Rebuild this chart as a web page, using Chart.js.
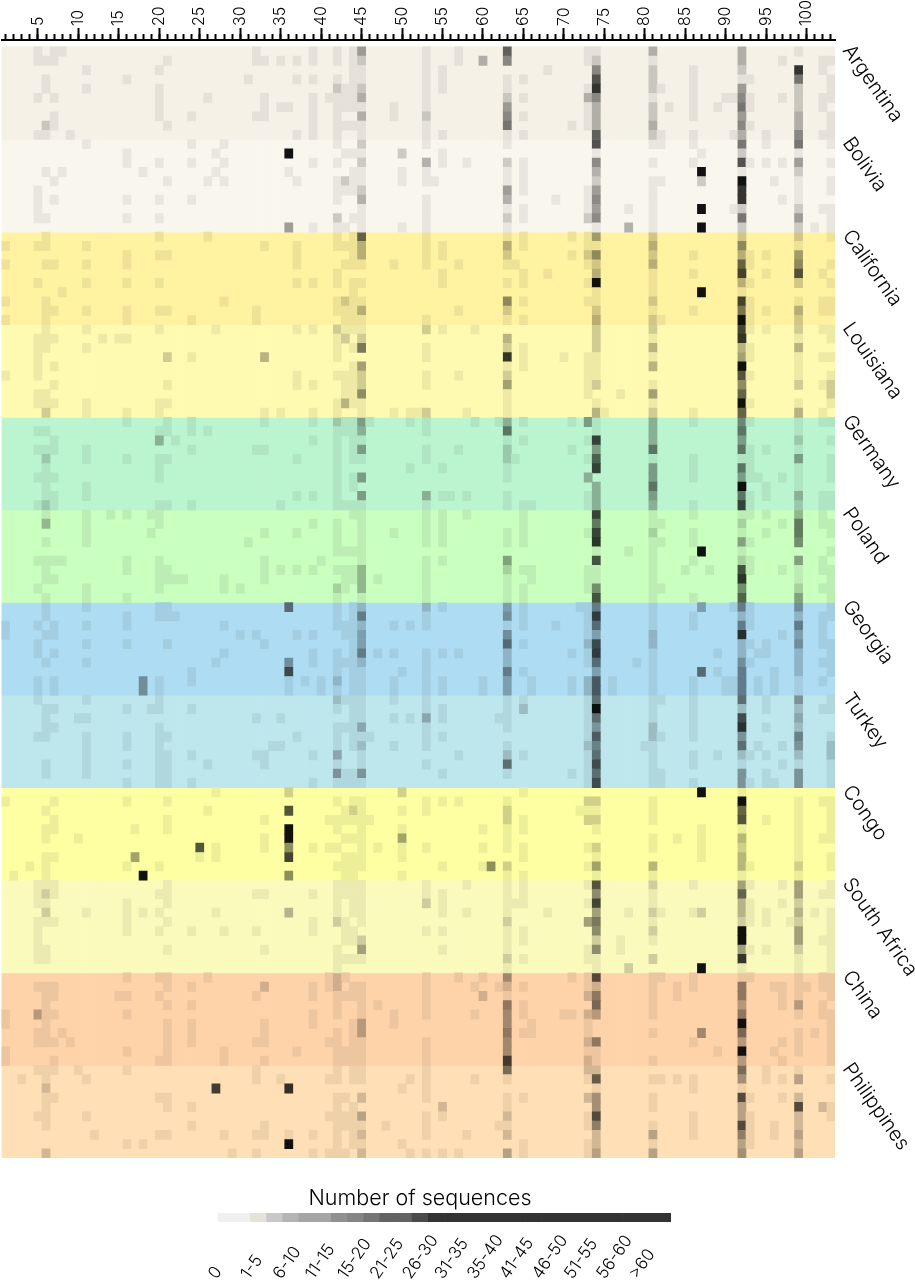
<!DOCTYPE html>
<html>
<head>
<meta charset="utf-8">
<script src="https://cdn.jsdelivr.net/npm/chart.js@4"></script>
<style>
  html, body { margin: 0; padding: 0; background: #fff; overflow: hidden; height: 1280px; }
  canvas { position: absolute; left: 0; }
  #heatmap { top: 0; }
  #scale { top: 1205px; }
  #scaleTicks { top: 1224px; }
  #scaleTitle { position: absolute; left: 0; top: 1184px; width: 840px; text-align: center; font: 300 21.5px Inter; color: #000; }
</style>
</head>
<body>
<canvas id="heatmap" width="915" height="1165"></canvas>
<canvas id="scale" width="840" height="25"></canvas>
<canvas id="scaleTicks" width="840" height="60"></canvas>
<div id="scaleTitle">Number of sequences</div>
<script>
const FONT = 'Inter';

const countries = ['Argentina', 'Bolivia', 'California', 'Louisiana', 'Germany', 'Poland', 'Georgia', 'Turkey', 'Congo', 'South Africa', 'China', 'Philippines'];
const countryStarts = [0, 10, 20, 30, 40, 50, 60, 70, 80, 90, 100, 110];
const bandColors = ['#f5f1e7', '#f9f6ee', '#fff2a0', '#fffab2', '#bbf5cf', '#c9ffbf', '#aedcf2', '#bde6ed', '#feffa3', '#fbfabd', '#fed3aa', '#ffdfb5'];

// how much of the band colour survives at each shade level (index = level)
const shadeFactors = [1, 0.935, 0.82, 0.72, 0.64, 0.56, 0.48, 0.40, 0.33, 0.27, 0.21, 0.07];

// one string per row: "column" (level 1) or "column:level"
const argentina = [
  '5 7 8 32 39 42 44 45:4 53 57 63:7 73 74 81:3 92:3 99',
  '5 6 7 21 32 33 35 37 39 42 44 45:2 53 57 60:3 63:5 73 74:2 81 92:3 97 102 103',
  '11 20 44 45 53 55 68 74:5 81:2 86 92:2 99:10 102',
  '6 16 31 37 39 42 44 45 53 55 63 65 74:8 81:2 86 92 93 99:6 103',
  '6 11 20 42:2 43 44 45:2 53 55 63 73 74:10 81:2 82 86 92:4 99:2 103',
  '5 7 20 26 33 39 41 42 43 44 45:3 53 63:2 65 73:3 74:5 81 86 90 91 92:5 93 97 99:2 102 103',
  '20 33 35 36 39 42 43 44 45 49 53 63:4 73 74:3 81:2 83 86 89 92:6 93 99:2 102',
  '7 20 24 32 33 39 42 45:3 49 53:2 63:5 65 73 74:3 81:2 86 92:4 99:3 103',
  '6:2 7 21 39 42 43 44 45 53 63:6 71 73 74:3 81:3 92:5 93 99:3 103',
  '5 6 9 37 39 42 45 53 55 63 65 74:7 81:2 82 86 91 92:3 95 99:5 102 103'
];
const bolivia = [
  '11 24 28 42 45:2 53 63 74:8 81 82 86 92:6 95 99:6 103',
  '16 27 36:11 43 44 45 50:2 55 74 87 92:2 99',
  '16 20 24 28 39 42 45:2 53:3 55 58 63:2 65 74:5 81 86 92:8 93 95 97 99:4 103',
  '6 8 18 27 36 44 45 50 53 63 65 74:3 87:11 92 99:2',
  '7 21 26 28 37 42 43:2 44 45 50 53 54 63 65 74:2 81 82 87:2 92:11 96 99 103',
  '5 42 43 44 45:2 63:4 65 73 74:4 81 92:10 99 103',
  '5 7 16 20 24 42 45:3 53 63:3 69 73 74:5 81 92:10 97 99',
  '5 45 53 63 65 73 74:4 78 81 87:11 91 92:2 99:2 102 103',
  '5 6 16 20 42:2 44 45 53 63:2 65 73:2 74:5 81 92:6 99:4 103',
  '36:4 39 42 43 45 50 53 63 74 78:3 81 87:11 92:2 99:2 101 103'
];
const california = [
  '6 20 26 42 44 45:7 53 63 65 71 73 74:4 81:2 92:2 99:2 103',
  '1 5 6 11 33 37 42 43 44 45:3 53 55 63:3 65 73 74 81:3 92:5 99',
  '16 20 21 37 44 45:3 53 55 63:2 71 73:2 74:5 81:2 86 92:3 93 95 99:4',
  '1 6 7 11 16 37 43 44 45 49 53 57 63 64 73 74:2 81:3 92:7 93 99:5 103',
  '42 55 65 68 74:3 81 86 92:9 95 99:8 102',
  '5 11 16 20 37 39 42 44 45 55 63 65 73 74:11 81 92:3 93 99:2 103',
  '8 44 74 81 87:11 92',
  '1 6 28 42 43:2 44 45 63:5 65 73 74 81:2 92:9 93 99 102 103',
  '6 7 11 16 20 21 32 42 43 44 45:3 57 63:2 74:2 81 86 92:6 93 95 99:3 102 103',
  '1 6 16 24 32 43 44 45 53 63 65 74:3 81:2 82 92:11 93 99:2'
];
const louisiana = [
  '6 11 20 27 37 39 42:2 43 44 45 53:2 55 59 74:2 81:2 92:9 93 95 99:2 102 103',
  '5 6 7 13 15 16 42 43:2 45:2 63:3 74:2 81 92:10 99 103',
  '5 6 11 42 44 45:6 53 63:2 65 74:2 81:3 92:3 93 99:3',
  '5 21:2 24 33:3 42 53 63:10 65 70 73 74 81 92:4 93 99 102 103',
  '5 7 44 45:4 63 65 73 74 81:3 92:11 99',
  '1 5 37 42 43 44 45:2 53 57 63:2 73 74 92:8 93 99 103',
  '7 21 37 39 43 44 45:2 53 63:4 73 74:2 81 92:5 99:2 102 103:2',
  '5 6 43 44 45:5 63 73 77 81:4 92:7 103:2',
  '5 6 7 11 20 21 42 43:3 44 45 63 74 81 92:11 93 99 103',
  '6:2 11 16 20 33 35 39 42 45 49 51 52 53:2 58 63 74:3 75 81:2 86 92:7 99:3 102'
];
const germany = [
  '16 21 24 33 39 42:2 43 44 45:4 46 51 53 59 62 63:3 65 71 73:4 74 81:3 86 92:5 93 99 102 103',
  '5 6 20 21 24 26 42 43 44 45:3 53 63:6 74 81:3 92:6 99',
  '7 20:3 22 39 42 44 45 63 65 73 74:9 81:3 92:4 99:2 103',
  '5 6 7 11 24 32 33 42 44 45:4 53 57 63:2 71 74:4 81:6 92:6 93 95 99',
  '6:2 11 16 20 21 37 42 44 45 53 63:2 64 73 74:7 81 86 92 93 99:4 103',
  '6 20 42 51 55 63 74:9 81:4 86 92:6 93 99 103',
  '5 6 7 20 42 44 45:4 63 73:3 81:4 86 92:4 93 94 97 99 103',
  '6 11 42 44 74:3 81:6 92:11 95 99',
  '6 7 11 37 39 42 45:4 53:3 55 56 58 63 73 74:3 81:4 92:6 93 95 99:3 102 103',
  '5 6:2 7 20 21 24 35 42 43 44 45 53 63 65 66 73 74:3 81:3 86 92:9 93 99:2 102 103'
];
const poland = [
  '6 11 14 16 19 20 44 45 53 55 58 65 74:9 81 86 92 93 95 99:3 102',
  '6:3 11 20 39 42 45 53 55 65 74:6 81 82 92:2 97 99:6 102 103',
  '11 19 33 37 42 45 49 53 55 63 65 73 74:9 81:2 86 92 95 99:6 103',
  '6 11 31 42 45 53 55 63 65 74:10 81 82 86 92:4 93 99:5',
  '42 43 44 45 74 78 81 87:11 92 103',
  '5 6 7 8 16 20 33 40 45 53 55 63:4 74:8 81 86 92:2 93 99:4 102',
  '6 16 20 21 33 35 37 39 42 43 44 45:3 53 63:2 65 66 73 74 81 85 88 92:8 93 97 99 102 103',
  '6 7 20 21 22 23 28 33 43 44 45:3 47 53 63 66 73 74 81 92:10 99 103',
  '5 11 20 28 30 42:2 43 45:3 53 63 65 73 74:5 81 82 92:5 99:2 102 103',
  '6 11 16 42 45 53 63 65 74:8 81 86 92:7 99:4 103'
];
const georgia = [
  '6 11 20 21 36:6 42 44 45:2 53:2 55 63:3 65 72 73 74:5 81 87:3 91 92:5 93 99:4 103',
  '6 16 20 21 22 42 44 45:5 53 63:4 65 73 74:9 81 86 92:2 93 99:2 102 103',
  '1 5 7 11 16 28 42 43 44 45:2 49 51 53 63 65 69 73 74:6 81 86 92:5 93 99:5 102',
  '1 6 7 30 32 37 39 43 44 45:3 63:4 73 74:3 81:2 92:10 97 99:3 102',
  '5 11 16 21 33 44 45:3 63:6 65 73:2 74:8 81:2 92:2 93 95 99:4 102 103',
  '5 7 28 39 42 44 45:5 47 49 53 55 57 63:2 71 73 74:9 81 89 92:2 94 95 99:2 103',
  '6 11 27 36:4 39 42 43 44 45:2 53 63:2 73 74:6 79 81 92:4 93 99:2 102 103',
  '24 36:8 42 44 45 50 53 63:5 65 74:3 81 87:6 89 92:5 96 99:2 103',
  '5 7 18:4 20 24 36 38 40 42:2 44 45 49 53 55 60 63:3 66 71 73:2 74:7 76 81 86 90 91 92:5 94 96 99 102',
  '5 7 18:4 20 36 40 42 44 45 49 53 55 60 63:3 66 71 73:2 74:7 76 81 86 90 91 92:5 94 96 99'
];
const turkey = [
  '5 11 20 42:2 43 44 45 49 53 63 65 73 74:6 81 82 86 92:6 95 99:4 103',
  '6 7 16 19 20 24 42 44 45 53 55 63 65:2 73 74:11 81 86 92:2 95 99:2 102 103',
  '6 10 11 32 35 44 45 49 51 53:3 55 62 63 73 74:6 81 86 92:8 99:3',
  '6 7 20 42 43 44 45:3 53 63 73 74:4 81:2 86 92:10 95 99:2',
  '5 6 11 16 20 21 37 42 44 45 46 53 55 73 74:7 81:2 82 86 92:4 99:5 103',
  '11 16 20 34 35 42 44 45:2 49 53 63 73:2 74:5 80 81 92:6 94 97 99:4 103:2',
  '11 20 21 24 32 33 39 42:3 45 57 63:2 65 73 74:6 81 86 89 92:2 93 95 99:2 103:2',
  '6 11 16 20 21 26 33 42 45 53 63:6 73 74:8 81 86 92 97 99 103',
  '6 11 20 21 42:4 43 44 45:4 55 63 71 73 74:6 81 82 92:4 95 99:4 103',
  '16 20 21 24 39 42 43 44 45 73 74:8 81 82 86 92:4 93 95 96 99:4 103'
];
const congo = [
  '27 36:2 50:2 65 87:11 92',
  '1 7 16 21 42 44 45 53 55 57 63 73:2 74:2 81 92:11 99 102 103',
  '6 26 36:8 43 44:2 45 50 53 63:2 72 73 74 81 92:7 99 103',
  '7 21 33 41 42 43 44 45 46 63:2 65 73:2 74:2 81 92:8 95 99 103',
  '6 7 17 21 36:11 42 45 50 60 63 65 74 87 92 99 103',
  '6 10 33 36:11 43 44 45 50:4 63 81 84 87 92:3 99 102 103',
  '25:8 27 33 36:5 39 41 42 45 47 50 53 60 63 65 73 74:2 81 87 92:2 99',
  '6 7 17:4 25 27 36:9 43 44 45 50 65 74 87 92:3 99 103',
  '4 6 16 20 42 43 44 45 55 60 61:5 63:2 73 74:4 81:3 92:3 93 99:2 103',
  '2 6 18:11 36:5 43 44 50 63 65 74 81 92 99'
];
const southAfrica = [
  '5 6 7 21 42 43 44 45 53 58 63 65 73 74:8 81:2 86 92:4 93 97 99:4 103',
  '5 6:2 7 20 21 32 33 39 42 43 44 45 53 55 63 65 74:5 81 92:7 99:4 102 103',
  '5 6 16 21 42 44 45 53:2 55 63 64 65 73 74:9 81 92:3 93 97 99:2',
  '6:2 11 16 18 20 27 36:3 42 44 45 55 58 63 68 74:4 78 81:2 82 86 87:2 92:3 93 95 99:3 101 103',
  '5 6 7 16 21 39 42:2 43 45 63:2 73:4 74:6 81 92:2 93 95 98 99:2 103',
  '5 16 20 24 28 32 39 43 44 53 55 63 65 74:5 81:2 92:11 99:4 103',
  '5 43 44 45:2 63 65 74:2 77 81 92:11 99:4 102 103',
  '5 6 21 33 42 45:4 55 63 73 74:5 77 92:4 93 95 99:2 103',
  '5 6 42 43 44 45 63:2 65 73 74 81:2 92:10 99 103',
  '42 63 74 78:2 87:11 92 99 103'
];
const china = [
  '16 20 21 26 41 42:2 43 53 57 60 63:4 71 73 74:8 81 82 86 92 93 99 102 103',
  '5 6 7 21 24 33:2 39 41 42:2 44 45 53 59 62 63:2 65 73 74:2 81 84 86 92:5 96 97 99 100 102 103',
  '6 7 15 16 20 32 39 42 43 44 45 53 60:2 63 73:2 74:5 81 84 92:5 97 99 103',
  '6 21 24 42 45 47 53 63:5 65 74:6 81 92:3 97 99:3 102',
  '1 5:3 6 7 16 39 42 45 49 53 59 63:4 65 70 71 73:2 74:3 81 92:5 99 102 103',
  '1 6 21 24 33 39 44 45:3 49 63:4 66 73 92:11 103',
  '5 6 8 21 24 33 42 44 45:3 63:5 65 66 73 81 87:4 92:6 99 101 103',
  '5 6 7 9 21 24 32 33 41 42 44 45 53 63:4 73:2 74:5 86 92:3 97 99 103',
  '1 16 21 28 37 42 43 44 45 53 63:4 73 74 89 92:11 96 99 103',
  '1 7 20 21 28 33 42 43 44 45 53 63:9 73:2 74 81 92:3 97 103'
];
const philippines = [
  '5 6 7 10 16 32 42 44 45 53 63:6 73:2 74:2 92:6 95 99',
  '3 6 11 32 35 41 42 44 45 51 53 59 63 73 74:7 81 82 84 86 92:4 95 97 99:3 103',
  '6:2 27:9 36:10 50 53 74 86 92',
  '6 7 20 21 42 43 45:2 53 63 65 73:2 74:4 81 92:8 93 97 99:2',
  '6 21 24 42 44 55:2 63 74:4 81 92:3 99:8 102:2 103',
  '5 6 11 41 42 43 44 45:3 53 55 63:2 73 74:8 86 92:3 93 99:2 103',
  '6 24 33 42 43 44 45 48 53 62 63 73 74:5 81 86 92:8 93 96 99:2',
  '12 20 21 28 32 33 36 39 42 44 45:2 53 58 63:2 74:2 81:3 86 92:5 93 96 99:3',
  '16 18 36:11 42 44 45 50 65 73 74:2 81 92:3 93 99:2',
  '6:2 29 32 39 41 42 43 45:2 51 53 55 57 63:3 65 73 74:3 81:3 92:4 99:3'
];
const countryRows = [argentina, bolivia, california, louisiana, germany, poland, georgia, turkey, congo, southAfrica, china, philippines];

const columns = Array.from({ length: 103 }, (_, i) => String(i + 1));

const scaleLabels = ['0', '1-5', '6-10', '11-15', '15-20', '21-25', '26-30', '31-35', '35-40', '41-45', '46-50', '51-55', '56-60', '>60'];
// the colour strip changes every half label step
const scaleColors = ['#f0f0f0', '#f0f0f0', '#e5e2da', '#c8c8c8', '#b4b4b4', '#a5a5a5', '#a5a5a5', '#909090', '#858585', '#757575', '#626262', '#626262', '#4a4a4a',
  '#333333', '#333333', '#333333', '#333333', '#333333', '#333333', '#333333', '#333333', '#333333', '#333333', '#333333', '#333333', '#333333', '#333333', '#333333'];

function shade(hex, factor) {
    const r = parseInt(hex.slice(1, 3), 16) * factor;
    const g = parseInt(hex.slice(3, 5), 16) * factor;
    const b = parseInt(hex.slice(5, 7), 16) * factor;
    return `rgb(${Math.round(r)},${Math.round(g)},${Math.round(b)})`;
}

// rotated labels make the scales ask for side padding, which would shift the plot
function noPadding(s) {
    s.paddingLeft = 0;
    s.paddingRight = 0;
    s.paddingTop = 0;
    s.paddingBottom = 0;
}

const barDefaults = { grouped: false, barPercentage: 1, categoryPercentage: 1, borderWidth: 0, inflateAmount: 0.33 };

const cellDatasets = countryRows.map((rows, g) => {
    const data = [];
    const colors = [];
    rows.forEach((row, r) => {
        row.split(' ').forEach((cell) => {
            const [col, level] = cell.split(':');
            data.push({ x: col, y: [countryStarts[g] + r, countryStarts[g] + r + 1] });
            colors.push(shade(bandColors[g], shadeFactors[Number(level || 1)]));
        });
    });
    return { ...barDefaults, label: countries[g], data, backgroundColor: colors, order: 1 };
});

const bandDatasets = countries.map((name, g) => ({
    ...barDefaults,
    label: name + ' band',
    data: columns.map((c) => ({ x: c, y: [countryStarts[g], countryStarts[g] + 10] })),
    backgroundColor: bandColors[g],
    order: 2
}));

new Chart(document.getElementById('heatmap'), {
    type: 'bar',
    data: { labels: columns, datasets: [...cellDatasets, ...bandDatasets] },
    options: {
        responsive: false,
        animation: false,
        events: [],
        layout: { padding: { left: 1.5, bottom: 7 } },
        plugins: { legend: { display: false }, tooltip: { enabled: false } },
        scales: {
            x: {
                type: 'category',
                position: 'top',
                weight: 1,
                offset: true,
                afterFit: (s) => { s.height = 40; noPadding(s); },
                grid: {
                    offset: false,
                    drawOnChartArea: false,
                    tickLength: 12,
                    tickWidth: 2,
                    tickColor: (c) => ((c.index + 1) % 5 === 0 ? '#000' : 'rgba(0,0,0,0)')
                },
                border: { color: '#000', width: 2 },
                ticks: {
                    autoSkip: false,
                    minRotation: 90,
                    maxRotation: 90,
                    padding: 2,
                    labelOffset: 19,
                    color: '#000',
                    font: { family: FONT, size: 16, weight: 300 },
                    callback: (v, i) => ((i + 1) % 5 === 0 ? String(i + 1) : '')
                }
            },
            xMinor: {
                type: 'category',
                labels: columns,
                position: 'top',
                weight: 0,
                offset: true,
                afterFit: (s) => { s.height = 0; noPadding(s); },
                grid: { offset: false, drawOnChartArea: false, tickLength: 6, tickWidth: 2, tickColor: '#000' },
                border: { display: false },
                ticks: { display: false, autoSkip: false }
            },
            y: { type: 'linear', reverse: true, min: -0.75, max: 120, display: false },
            yCountry: {
                type: 'linear',
                position: 'right',
                reverse: true,
                min: -0.75,
                max: 120,
                afterFit: (s) => { s.width = 80; noPadding(s); },
                afterBuildTicks: (s) => { s.ticks = countryStarts.map((v) => ({ value: v })); },
                grid: { display: false, drawTicks: false },
                border: { display: false },
                ticks: {
                    autoSkip: false,
                    minRotation: -55,
                    padding: 12,
                    color: '#000',
                    font: { family: FONT, size: 20, weight: 300 },
                    callback: (v, i) => countries[i]
                }
            }
        }
    }
});

const stepLabels = scaleColors.map((_, i) => String(i));

// colour strip, y 1213-1222 on the page
new Chart(document.getElementById('scale'), {
    type: 'bar',
    data: {
        labels: stepLabels,
        datasets: [{
            ...barDefaults,
            label: 'Number of sequences',
            data: scaleColors.map(() => [0, 1]),
            backgroundColor: scaleColors
        }]
    },
    options: {
        responsive: false,
        animation: false,
        events: [],
        layout: { padding: { left: 218, right: 169, top: 8, bottom: 8 } },
        plugins: { legend: { display: false }, tooltip: { enabled: false } },
        scales: {
            x: { display: false },
            y: { min: 0, max: 1, display: false }
        }
    }
});

// labels of the strip: a top axis reads from its start, like the reference
new Chart(document.getElementById('scaleTicks'), {
    type: 'bar',
    data: { labels: stepLabels, datasets: [] },
    options: {
        responsive: false,
        animation: false,
        events: [],
        layout: { padding: { left: 218, right: 169 } },
        plugins: { legend: { display: false }, tooltip: { enabled: false } },
        scales: {
            x: {
                display: true,
                position: 'top',
                afterFit: (s) => { s.height = 59; noPadding(s); },
                grid: { display: false, drawTicks: false },
                border: { display: false },
                ticks: {
                    autoSkip: false,
                    minRotation: 55,
                    maxRotation: 55,
                    padding: 0,
                    labelOffset: 3,
                    color: '#000',
                    font: { family: FONT, size: 17, weight: 300 },
                    callback: (v, i) => (i % 2 === 0 ? scaleLabels[i / 2] : '')
                }
            },
            y: { min: 0, max: 1, display: false }
        }
    }
});
</script>
</body>
</html>
